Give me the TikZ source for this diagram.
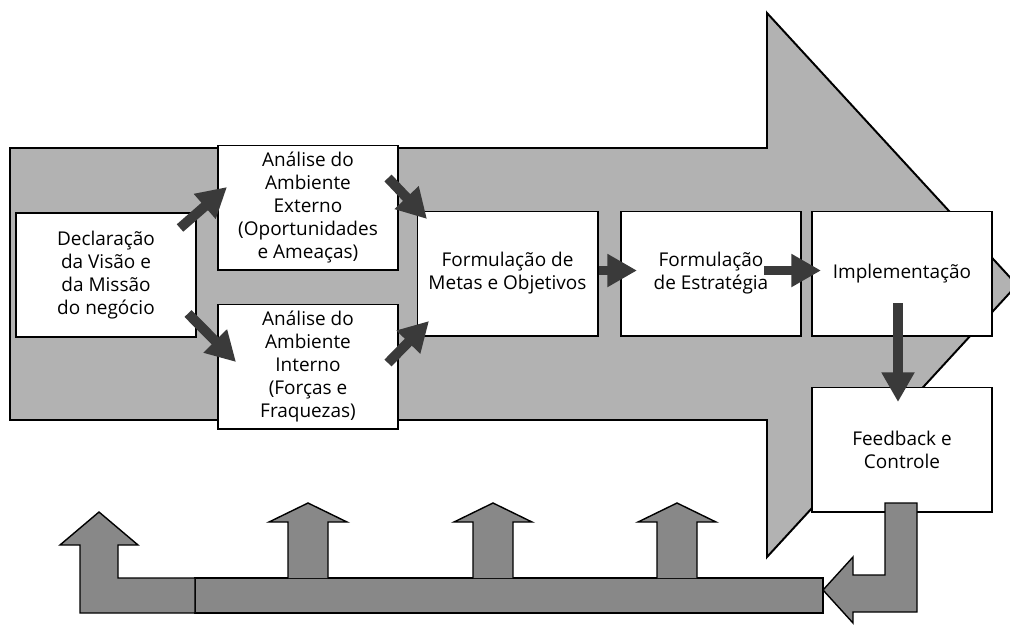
\documentclass[tikz,border=0pt]{standalone}
\usepackage{fontspec}
\setmainfont{Open Sans}
\usetikzlibrary{arrows.meta}
\definecolor{bigfill}{HTML}{B2B2B2}
\definecolor{flowgray}{HTML}{3A3A3A}
\definecolor{loopgray}{HTML}{888888}

\begin{document}
\begin{tikzpicture}[x=0.025cm, y=-0.025cm,
    box/.style={draw, line width=1.4pt, fill=white, minimum width=4.5cm, minimum height=3.1cm,
                align=center, inner sep=1pt, font=\fontsize{13.5}{16.4}\selectfont},
    flow/.style={draw=flowgray, line width=7pt, -{Triangle[length=0.74cm, width=0.78cm]}},
    loop/.style={draw=black, line width=1pt, fill=loopgray, line join=miter}]
  \clip (0, 0) rectangle (1010, 625);

  \draw [line width=1.4pt, fill=bigfill] (10, 148) -- (767, 148) -- (767, 13) -- (1017, 285)
        -- (767, 557) -- (767, 420) -- (10, 420) -- cycle;

  \node [box] (decl) at (106, 275) {Declaração\\da Visão e\\da Missão\\do negócio};
  \node [box] (ext) at (308, 207.5) {Análise do\\Ambiente\\Externo\\(Oportunidades\\e Ameaças)};
  \node [box] (int) at (308, 366.5) {Análise do\\Ambiente\\Interno\\(Forças e\\Fraquezas)};
  \node [box] (metas) at (507.5, 273.5) {Formulação de\\Metas e Objetivos};
  \node [box] (estr) at (711, 273.5) {Formulação\\de Estratégia};
  \node [box] (impl) at (902, 273.5) {Implementação};
  \node [box] (feed) at (902, 449.5) {Feedback e\\Controle};

  \draw [flow] ([shift={(-17, 16)}]decl.north east) -- ([shift={(10, -20.5)}]ext.west);
  \draw [flow] ([shift={(-9, -24.5)}]decl.south east) -- ([shift={(19, -4.5)}]int.west);
  \draw [flow] ([shift={(-11, -29.5)}]ext.east) -- ([shift={(10.5, 8.5)}]metas.north west);
  \draw [flow] ([shift={(-11, -3.5)}]int.east) -- ([shift={(12.5, -15.5)}]metas.south west);
  \draw [flow] ([shift={(0, -3)}]metas.east) -- ([shift={(17, -3)}]estr.west);
  \draw [flow] ([shift={(-38, -3)}]estr.east) -- ([shift={(10, -3)}]impl.west);
  \draw [flow] ([shift={(-4, -33.5)}]impl.south) -- ([shift={(-4, 15.5)}]feed.north);

  \draw [loop] (917, 503) -- (917, 612) -- (853, 612) -- (853, 623) -- (823, 590) -- (853, 557)
        -- (853, 575) -- (885, 575) -- (885, 503) -- cycle;
  \draw [loop] (195, 578) rectangle (823, 613);
  \draw [loop] (80, 613) -- (195, 613) -- (195, 578) -- (118, 578) -- (118, 545) -- (138, 545)
        -- (99, 512) -- (60, 545) -- (80, 545) -- cycle;
  \foreach \x in {308, 493, 677}
    \draw [loop] (\x-20, 578) -- (\x-20, 522) -- (\x-39, 522) -- (\x, 503) -- (\x+39, 522)
          -- (\x+20, 522) -- (\x+20, 578);
\end{tikzpicture}
\end{document}
